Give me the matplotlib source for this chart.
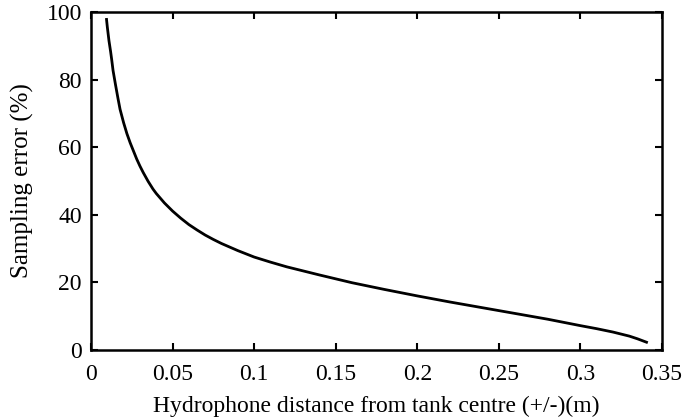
import matplotlib
matplotlib.use("Agg")
import matplotlib.pyplot as plt

distance_m = [0.0095, 0.0100, 0.0110, 0.0120, 0.0127, 0.0135, 0.0150, 0.0165,
              0.0178, 0.0200, 0.0220, 0.0240, 0.0260, 0.0280, 0.0300, 0.0320,
              0.0350, 0.0380, 0.0400, 0.0450, 0.0500, 0.0550, 0.0600, 0.0650,
              0.0700, 0.0750, 0.0800, 0.0900, 0.1000, 0.1100, 0.1200, 0.1400,
              0.1600, 0.1800, 0.2000, 0.2200, 0.2400, 0.2600, 0.2800, 0.3000,
              0.3100, 0.3200, 0.3300, 0.3350, 0.3405]
sampling_error = [97.8, 95.5, 91.5, 88.3, 85.8, 82.7, 78.5, 74.5,
                  71.2, 67.2, 64.0, 61.3, 58.9, 56.5, 54.4, 52.5,
                  49.9, 47.6, 46.3, 43.5, 41.1, 39.0, 37.1, 35.5,
                  34.0, 32.7, 31.5, 29.4, 27.5, 26.0, 24.6, 22.2,
                  19.9, 17.9, 16.0, 14.2, 12.5, 10.8, 9.1, 7.2,
                  6.3, 5.3, 4.1, 3.3, 2.3]

x_ticks = [0, 0.05, 0.1, 0.15, 0.2, 0.25, 0.3, 0.35]
x_ticklabels = ["0", "0.05", "0.1", "0.15", "0.2", "0.25", "0.3", "0.35"]
y_ticks = [0, 20, 40, 60, 80, 100]

plt.rcParams['font.family'] = ['Liberation Serif', 'DejaVu Serif']
plt.rcParams['font.size'] = 17

fig = plt.figure(figsize=(6.87, 4.2), dpi=100)
ax = fig.add_axes([0.1325, 0.1667, 0.9636 - 0.1325, 0.9714 - 0.1667])

ax.plot(distance_m, sampling_error, color='black', lw=2.0,
        solid_joinstyle='round')

ax.set_xlim(0, 0.35)
ax.set_ylim(0, 100)
ax.set_xticks(x_ticks)
ax.set_xticklabels(x_ticklabels)
ax.set_yticks(y_ticks)
ax.tick_params(direction='in', length=5, width=1.5, top=True, right=True,
               labelsize=17)
ax.tick_params(axis='x', pad=10)
ax.tick_params(axis='y', pad=6.5)
for s in ax.spines.values():
    s.set_linewidth(1.8)

ax.set_xlabel("Hydrophone distance from tank centre (+/-)(m)", fontsize=17, labelpad=8)
ax.set_ylabel("Sampling error (%)", fontsize=18, labelpad=9)

fig.savefig("out.png", dpi=100, facecolor='white')
